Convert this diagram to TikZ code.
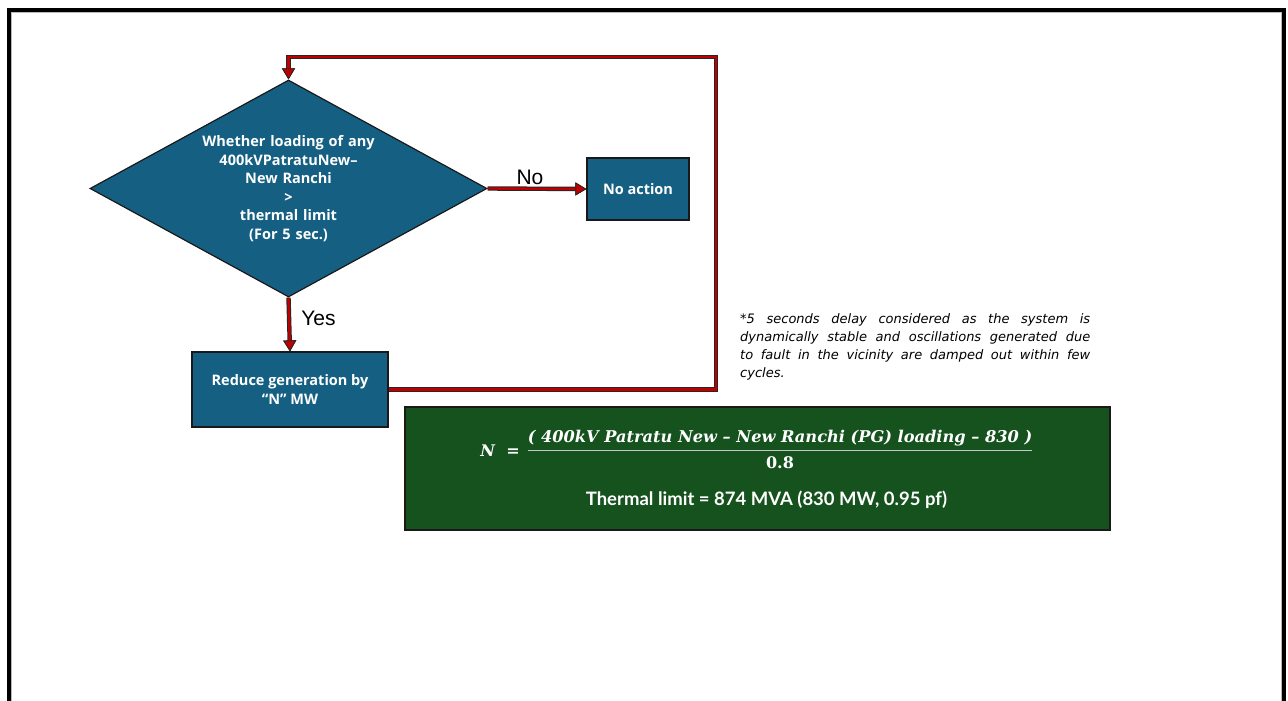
\documentclass[tikz,border=0pt]{standalone}
\usepackage{fontspec}
\setmainfont{Lato}
\newfontfamily\boxfont{Open Sans}
\newfontfamily\labfont{Liberation Sans}
\newfontfamily\notefont{DejaVu Sans}
\newfontfamily\eqfont{DejaVu Serif}
\usetikzlibrary{shapes.geometric,arrows.meta}
\definecolor{boxblue}{RGB}{21,96,130}
\definecolor{eqgreen}{RGB}{21,82,30}
\definecolor{myred}{RGB}{192,0,0}
\tikzset{
  box/.style={draw=black!90, line width=1.2pt, fill=boxblue, text=white,
    font=\boxfont\bfseries\fontsize{14.5}{18.5}\selectfont, align=center, inner sep=0pt},
  conn/.style={draw=myred, line width=2.4pt, line join=miter,
    preaction={draw=black!85, line width=4.4pt},
    -{Triangle[length=11pt, width=13pt, color=black!85, fill=myred, line width=0.8pt]}},
  lab/.style={font=\labfont\fontsize{21}{24}\selectfont, inner sep=0pt},
}
\begin{document}
\begin{tikzpicture}[x=1pt,y=-1pt]
\useasboundingbox (0,0) rectangle (1288,701);
% page border
\draw[black, line width=4pt] (9,703) -- (9,10.5) -- (1283.5,10.5) -- (1283.5,703);
\draw[gray!55, line width=0.9pt] (11.8,703) -- (11.8,12.9) -- (1281.2,12.9) -- (1281.2,703);

% nodes
\node[box, diamond, aspect=1.83, minimum width=397pt, minimum height=217pt, text width=180pt]
  (dia) at (288.5,188.5) {Whether loading of any\\400kVPatratuNew–\\New Ranchi\\>\\thermal limit\\(For 5 sec.)};
\node[box, minimum width=102pt, minimum height=62pt] (noact) at (638,189) {No action};
\node[box, minimum width=196pt, minimum height=75pt] (reduce) at (290,389.5) {Reduce generation by\\“N” MW};
\coordinate (c1) at (716,57);

% connectors
\draw[conn] (dia.east) -- (noact.west);
\draw[conn] (dia.south) -- (reduce.north);
\draw[conn] (reduce.east) -| (c1) -| (dia.north);

% labels
\node[lab] (nolab) at (530,177) {No};
\node[lab] (yeslab) at (318.5,318) {Yes};

% note
\node[anchor=north west, inner sep=0pt, align=left,
  font=\notefont\itshape\fontsize{13}{18}\selectfont] (note) at (740,313.5)
  {\makebox[350pt][s]{*5 seconds delay considered as the system is}\\
   \makebox[350pt][s]{dynamically stable and oscillations generated due}\\
   \makebox[350pt][s]{to fault in the vicinity are damped out within few}\\
   cycles.};

% equation box
\node[draw=black!90, line width=1.2pt, fill=eqgreen, minimum width=705pt, minimum height=123pt, inner sep=0pt]
  (eqbox) at (757.5,468.5) {};
\node[text=white, inner sep=0pt, font=\eqfont\bfseries\itshape\fontsize{16.2}{18}\selectfont]
  (num) at (780,438.5) {( 400kV Patratu New – New Ranchi (PG) loading – 830 )};
\draw[gray!45, line width=1.6pt] (528,450.5) -- (1032,450.5);
\node[text=white, inner sep=0pt, font=\eqfont\bfseries\fontsize{16}{18}\selectfont]
  (den) at (780,463) {0.8};
\node[text=white, inner sep=0pt, font=\eqfont\bfseries\fontsize{16}{18}\selectfont]
  (nlab) at (500,451) {\textit{N}\,\, =};
\node[text=white, inner sep=0pt, font=\bfseries\fontsize{18.5}{20}\selectfont]
  (thermal) at (766.5,499.5) {Thermal limit = 874 MVA (830 MW, 0.95 pf)};
\end{tikzpicture}
\end{document}
